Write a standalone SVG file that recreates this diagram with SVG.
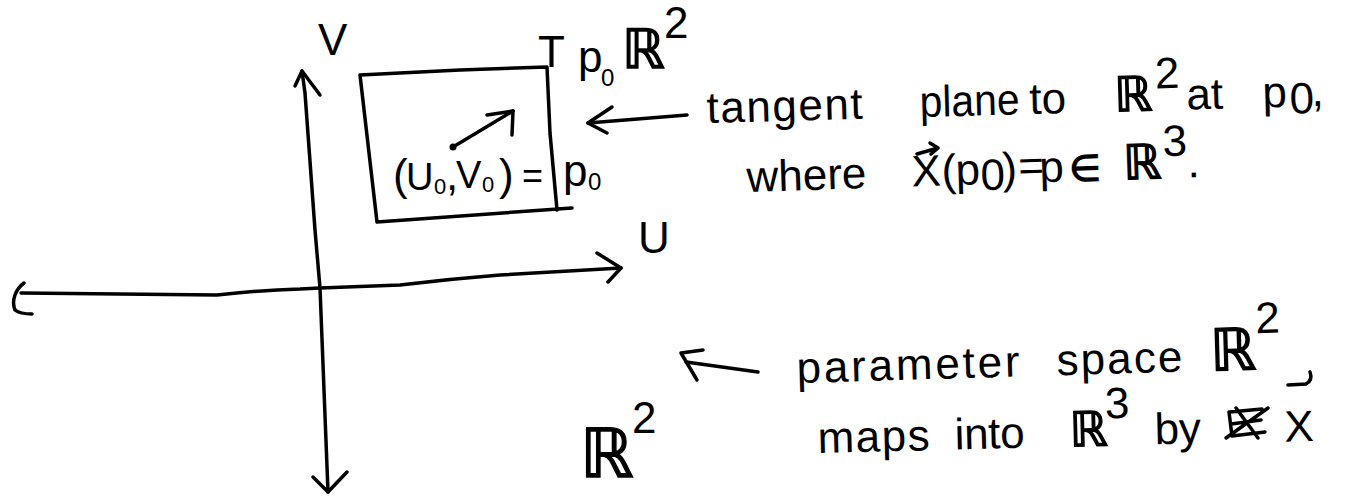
<svg xmlns="http://www.w3.org/2000/svg" width="1346" height="497" viewBox="0 0 1346 497">
<style>
  .ink { fill: none; stroke: #000; stroke-width: 3.5; stroke-linecap: round; stroke-linejoin: round; }
  .t { font-family: "Liberation Sans", "DejaVu Sans", sans-serif; fill: #000; font-size: 44px; }
  .m { font-family: "DejaVu Sans", "Liberation Sans", sans-serif; fill: #000; stroke: #000; stroke-width: 1.4; }
</style>
<rect width="1346" height="497" fill="#fff"/>

<g id="connectors">
  <!-- vertical axis -->
  <path class="ink" d="M302,71 L305,93 L315,230 L320,288 L328,492"/>
  <path class="ink" d="M295,86 L302,71 L320,95"/>
  <path class="ink" d="M313,477 L328,492 L347,472"/>
  <!-- horizontal axis -->
  <path class="ink" d="M21,293 L217,295 Q260,290 300,289 L320,288 L400,285 Q450,279 500,275 L621,268"/>
  <path class="ink" d="M597,253 L621,268 L608,282"/>
  <path class="ink" d="M24,283 C16,289 11,300 15,310 Q20,314 32,314"/>
  <!-- tangent vector inside box -->
  <circle cx="453" cy="147" r="3.5" fill="#000"/>
  <path class="ink" d="M453,147 L513,111"/>
  <path class="ink" d="M487,115 L513,111 L512,135"/>
  <!-- arrow to tangent plane -->
  <path class="ink" d="M687,115 L588,123"/>
  <path class="ink" d="M612,107 L588,123 L607,133"/>
  <!-- arrow to parameter space -->
  <path class="ink" d="M686,362 L758,372"/>
  <path class="ink" d="M703,350 L681,353 L697,380"/>
</g>

<g id="axis-v">
  <text class="t" x="318" y="55" font-size="36">V</text>
</g>
<g id="axis-u">
  <text class="t" x="638" y="253" font-size="35">U</text>
</g>

<g id="tangent-plane">
  <path class="ink" d="M360,75 L460,70 L547,67 L550,133 L557,210 M572,208 L377,222 L360,75"/>
  <text class="t" font-size="42">
    <tspan x="393" y="190">(</tspan><tspan x="406" y="190" font-size="38">U</tspan><tspan x="434" y="194" font-size="22">0</tspan><tspan x="446" y="190">,</tspan><tspan x="456" y="188" font-size="38">V</tspan><tspan x="482" y="192" font-size="22">0</tspan><tspan x="499" y="190">)</tspan><tspan x="522" y="188" font-size="36">=</tspan>
  </text>
  <text class="t" font-size="44"><tspan x="563" y="186">p</tspan><tspan x="588" y="190" font-size="24">0</tspan></text>
</g>

<g id="tangent-label">
  <text class="t" x="538" y="67" font-size="62">T</text>
  <text class="t" font-size="40"><tspan x="578" y="72">p</tspan><tspan x="601" y="86" font-size="24">0</tspan></text>
  <text class="m" x="622" y="68" font-size="54">ℝ</text>
  <text class="t" x="664" y="38" font-size="28">2</text>
</g>

<g id="tangent-note">
  <g transform="rotate(-1.6 707 123)">
    <text class="t" x="707" y="123" textLength="156" lengthAdjust="spacing">tangent</text>
    <text class="t" x="920" y="123" textLength="100" lengthAdjust="spacingAndGlyphs">plane</text>
    <text class="t" x="1030" y="123">to</text>
    <text class="m" x="1115" y="123" font-size="48">ℝ</text>
    <text class="t" x="1156" y="101" font-size="26">2</text>
    <text class="t" x="1187" y="123">at</text>
    <text class="t" x="1263" y="123">p</text>
    <text class="t" x="1290" y="130" font-size="24">0</text>
    <text class="t" x="1312" y="123">,</text>
  </g>
  <g transform="rotate(-1.9 747 192)">
    <text class="t" x="747" y="192">where</text>
    <text class="t" x="912" y="192" font-size="40">X</text>
    <text class="t" x="942" y="192">(</text>
    <text class="t" x="956" y="192">p</text>
    <text class="t" x="981" y="198" font-size="22">0</text>
    <text class="t" x="1003" y="192">)</text>
    <text class="t" x="1019" y="190" font-size="30">=</text>
    <text class="t" x="1040" y="192">p</text>
    <text class="m" x="1070" y="192" font-size="36">∈</text>
    <text class="m" x="1124" y="192" font-size="48">ℝ</text>
    <text class="t" x="1164" y="170" font-size="26">3</text>
    <text class="t" x="1188" y="192">.</text>
  </g>
  <path class="ink" d="M917,154 L938,148 M930,143 L938,148 L931,154" stroke-width="3"/>
</g>

<g id="param-space">
  <text class="m" x="580" y="477" font-size="68">ℝ</text>
  <text class="t" x="632" y="433" font-size="32">2</text>
</g>

<g id="param-note">
  <g transform="rotate(-1.7 797 383)">
    <text class="t" x="797" y="383" textLength="223" lengthAdjust="spacing">parameter</text>
    <text class="t" x="1057" y="383" textLength="126" lengthAdjust="spacing">space</text>
    <text class="m" x="1211" y="383" font-size="58">ℝ</text>
    <text class="t" x="1257" y="347" font-size="34">2</text>
  </g>
  <g transform="rotate(-1.5 818 453)">
    <text class="t" x="818" y="453" textLength="112" lengthAdjust="spacing">maps</text>
    <text class="t" x="955" y="453" textLength="70" lengthAdjust="spacing">into</text>
    <text class="m" x="1070" y="453" font-size="48">ℝ</text>
    <text class="t" x="1106" y="426" font-size="28">3</text>
    <text class="t" x="1155" y="453" font-size="50">by</text>
    <text class="t" x="1285" y="454" font-size="56">X</text>
  </g>
  <path class="ink" d="M1230,412 L1262,409 M1229,412 L1232,436 L1265,432 M1231,424 L1261,420 M1226,438 L1268,408 M1236,408 L1258,438" stroke-width="3"/>
  <path class="ink" d="M1288,385 L1306,384 Q1313,380 1310,372" stroke-width="3"/>
</g>
</svg>
